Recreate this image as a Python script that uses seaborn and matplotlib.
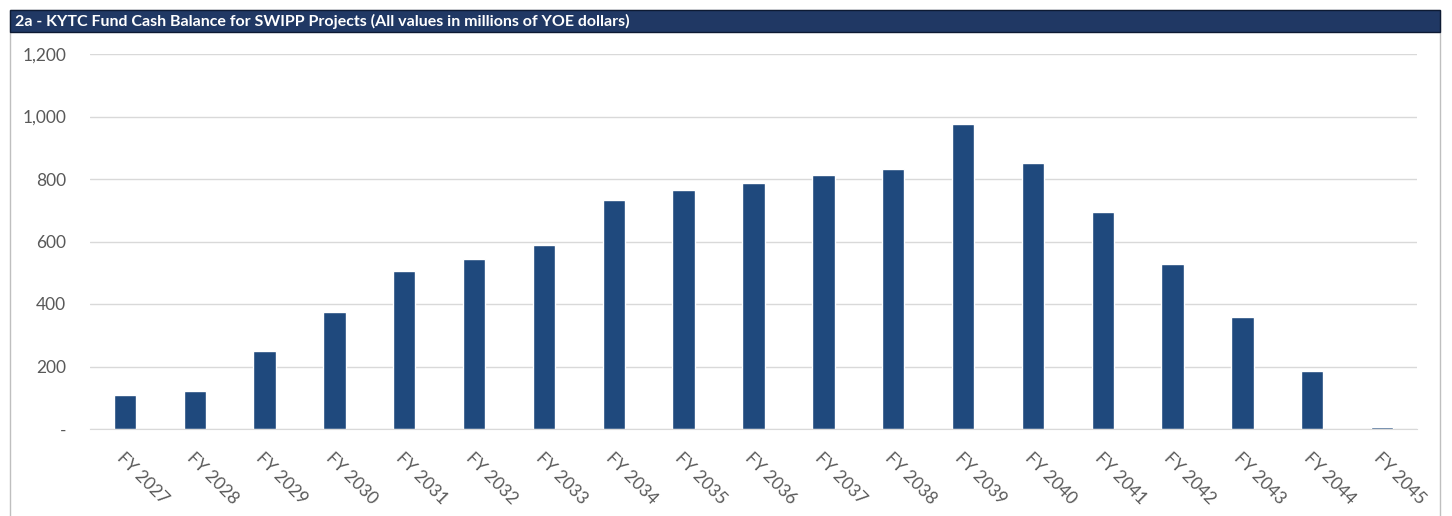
import pandas as pd
import matplotlib.pyplot as plt
import matplotlib.ticker as mticker
import seaborn as sns
from matplotlib.patches import Rectangle

# Chart data (millions of YOE dollars)
years = ['FY 2027', 'FY 2028', 'FY 2029', 'FY 2030', 'FY 2031', 'FY 2032', 'FY 2033',
         'FY 2034', 'FY 2035', 'FY 2036', 'FY 2037', 'FY 2038', 'FY 2039', 'FY 2040',
         'FY 2041', 'FY 2042', 'FY 2043', 'FY 2044', 'FY 2045']
balance = [110, 122, 250, 374, 506, 544, 589, 733, 765, 787, 813, 832, 976, 851,
           694, 528, 358, 186, 5]
title = '2a - KYTC Fund Cash Balance for SWIPP Projects (All values in millions of YOE dollars)'

df = pd.DataFrame({'year': years, 'balance': balance})

sns.set_style('white')
plt.rcParams['font.family'] = ['Lato', 'DejaVu Sans']

W, H = 1452, 516
fig = plt.figure(figsize=(W / 100, H / 100), dpi=100)
ax = fig.add_axes([90 / W, 1 - 429 / H, (1417 - 90) / W, 375 / H])

sns.barplot(data=df, x='year', y='balance', color='#1f497d', saturation=1,
            width=0.32, ax=ax)

ax.set_ylim(0, 1200)
ax.yaxis.set_major_locator(mticker.MultipleLocator(200))
ax.yaxis.set_major_formatter(mticker.FuncFormatter(
    lambda v, p: '-' if v == 0 else f'{v:,.0f}'))
ax.grid(axis='y', color='#d9d9d9', linewidth=1)
ax.set_axisbelow(True)
for s in ['top', 'right', 'left']:
    ax.spines[s].set_visible(False)
ax.spines['bottom'].set_color('#d9d9d9')
ax.set_xlabel('')
ax.set_ylabel('')
ax.tick_params(axis='y', colors='#595959', labelsize=12.5, length=0, pad=17)
ax.tick_params(axis='x', colors='#595959', labelsize=12.5, length=0, pad=15)
for lbl in ax.get_xticklabels():
    lbl.set_rotation(-45)
    lbl.set_ha('left')
    lbl.set_va('top')
    lbl.set_rotation_mode('anchor')

# outer border and title bar
fig.patches.append(Rectangle((10 / W, -0.1), 1430 / W, 1 - 10 / H + 0.1,
                             transform=fig.transFigure, fill=False,
                             edgecolor='#bfbfbf', linewidth=1))
fig.patches.append(Rectangle((10 / W, 1 - 32 / H), 1430 / W, 22 / H,
                             transform=fig.transFigure, facecolor='#203864',
                             edgecolor='#0d1a33', linewidth=1))
fig.text(15 / W, 1 - 21 / H, title, color='white', fontsize=11.5, fontweight='bold',
         va='center', ha='left')

fig.savefig('out.png', dpi=100)
